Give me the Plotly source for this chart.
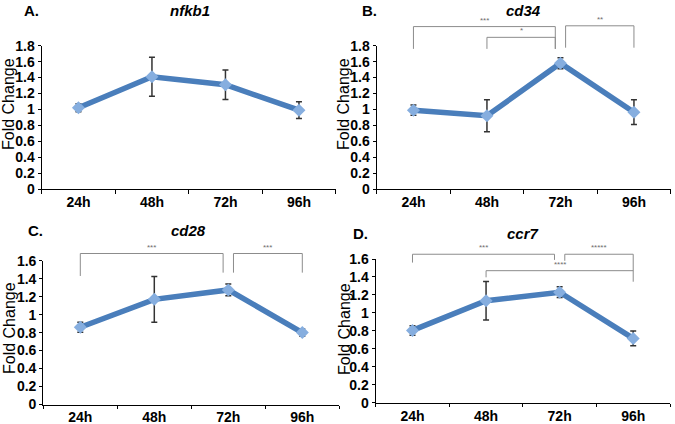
import plotly.graph_objects as go

W, H = 675, 424

timepoints = ["24h", "48h", "72h", "96h"]

genes = ["nfkb1", "cd34", "cd28", "ccr7"]
letters = ["A.", "B.", "C.", "D."]

nfkb1_mean = [1.02, 1.41, 1.31, 0.99]
nfkb1_err = [0.05, 0.245, 0.185, 0.105]

cd34_mean = [0.99, 0.92, 1.58, 0.965]
cd34_err = [0.065, 0.2, 0.07, 0.155]

cd28_mean = [0.86, 1.17, 1.275, 0.80]
cd28_err = [0.055, 0.255, 0.065, 0.04]

ccr7_mean = [0.805, 1.135, 1.23, 0.716]
ccr7_err = [0.053, 0.215, 0.06, 0.083]

y_max = [1.8, 1.8, 1.6, 1.6]
y_ticks_step = 0.2

# significance brackets: (from idx, to idx, top, left leg bottom, right leg bottom, label)
brackets = {
    "cd34": [
        (0, 2, 2.04, 1.76, 1.76, "***"),
        (1, 2, 1.905, 1.76, 1.76, "*"),
        (2, 3, 2.05, 1.775, 1.775, "**"),
    ],
    "cd28": [
        (0, 2, 1.68, 1.43, 1.467, "***"),
        (2, 3, 1.68, 1.467, 1.467, "***"),
    ],
    "ccr7": [
        (0, 2, 1.653, 1.56, 1.59, "***"),
        (2, 3, 1.653, 1.58, 1.347, "*****"),
        (1, 3, 1.47, 1.396, 1.47, "****"),
    ],
    "nfkb1": [],
}

means = [nfkb1_mean, cd34_mean, cd28_mean, ccr7_mean]
errs = [nfkb1_err, cd34_err, cd28_err, ccr7_err]

# layout geometry in pixels: (x_left, x_right, y_bottom, y_top)
boxes = [
    (41.7, 335.7, 189.0, 45.7),
    (376.7, 670.7, 189.0, 45.7),
    (43.3, 339.3, 404.5, 260.7),
    (375.7, 670.0, 402.7, 259.0),
]
xticklen = [4, 4, 3, 3]
letter_pos = [(31, 11), (369, 11), (35, 231), (360, 233)]
title_pos = [(190, 11), (523, 11), (188, 231), (523, 233)]
ylab_pos = [(9, 104), (344, 104), (9, 328), (344, 329)]

LINE = "#4a7ebb"
MARK = "#86aedf"
FONT = "Liberation Sans, Arial, sans-serif"

fig = go.Figure()
shapes = []
annotations = []

for k in range(4):
    ax = "" if k == 0 else str(k + 1)
    xl, xr, yb, yt = boxes[k]
    fig.add_trace(go.Scatter(
        x=timepoints, y=means[k],
        xaxis="x" + ax, yaxis="y" + ax,
        mode="lines+markers",
        line=dict(color=LINE, width=5.5),
        marker=dict(symbol="diamond", size=10, color=MARK),
        error_y=dict(type="data", array=errs[k], color="#333333", thickness=1.5, width=3),
        showlegend=False,
        hoverinfo="x+y",
    ))
    fig.layout["xaxis" + ax] = dict(
        domain=[xl / W, xr / W], anchor="y" + ax, automargin=False,
        type="category", categoryorder="array", categoryarray=timepoints,
        range=[-0.5, 3.5], tickson="boundaries", ticks="outside", ticklen=xticklen[k],
        tickcolor="black", tickwidth=1,
        showline=True, linecolor="black", linewidth=1.3,
        showgrid=False, zeroline=False,
        tickfont=dict(family=FONT, size=14, color="black", weight="bold"),
    )
    fig.layout["yaxis" + ax] = dict(
        domain=[1 - yb / H, 1 - yt / H], anchor="x" + ax, automargin=False,
        range=[0, y_max[k]], dtick=y_ticks_step, tick0=0,
        ticks="outside", ticklen=3, tickcolor="black", tickwidth=1,
        showline=True, linecolor="black", linewidth=1.3,
        showgrid=False, zeroline=False,
        tickfont=dict(family=FONT, size=14, color="black", weight="bold"),
    )
    # panel texts
    annotations.append(dict(text="<b>" + letters[k] + "</b>", x=letter_pos[k][0] / W, y=1 - letter_pos[k][1] / H,
                            xref="paper", yref="paper", showarrow=False, xanchor="center", yanchor="middle",
                            font=dict(family=FONT, size=15, color="black")))
    annotations.append(dict(text="<b><i>" + genes[k] + "</i></b>", x=title_pos[k][0] / W, y=1 - title_pos[k][1] / H,
                            xref="paper", yref="paper", showarrow=False, xanchor="center", yanchor="middle",
                            font=dict(family=FONT, size=15, color="black")))
    annotations.append(dict(text="Fold Change", x=ylab_pos[k][0] / W, y=1 - ylab_pos[k][1] / H,
                            xref="paper", yref="paper", showarrow=False, xanchor="center", yanchor="middle",
                            textangle=-90, font=dict(family=FONT, size=16, color="black")))
    # brackets
    n = len(timepoints)
    for (i, j, top, lb, rb, lab) in brackets[genes[k]]:
        nudge_i = 0.07 if i == 2 else 0.0
        nudge_j = -0.07 if j == 2 else 0.0
        x0 = (i + 0.5 + nudge_i) / n
        x1 = (j + 0.5 + nudge_j) / n
        yt_ = top / y_max[k]
        path = f"M {x0},{lb / y_max[k]} L {x0},{yt_} L {x1},{yt_} L {x1},{rb / y_max[k]}"
        shapes.append(dict(type="path", path=path, xref="x" + ax + " domain", yref="y" + ax + " domain",
                           line=dict(color="#8c8c8c", width=1)))
        annotations.append(dict(text=lab, x=(x0 + x1) / 2, y=yt_, xref="x" + ax + " domain",
                                yref="y" + ax + " domain", showarrow=False, xanchor="center",
                                yanchor="bottom", font=dict(family=FONT, size=8, color="#6e6e6e")))

fig.update_layout(
    width=W, height=H, autosize=False,
    margin=dict(l=0, r=0, t=0, b=0, pad=0, autoexpand=False),
    paper_bgcolor="white", plot_bgcolor="white",
    shapes=shapes, annotations=annotations,
    font=dict(family=FONT),
)

fig.write_html("out.html", config={"displayModeBar": False},
               post_script="document.body.style.margin='0';")
